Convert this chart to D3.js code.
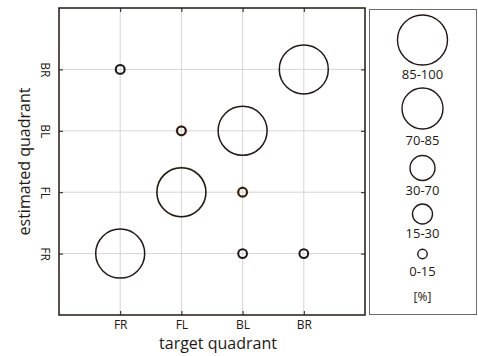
<!DOCTYPE html>
<html>
<head>
<meta charset="UTF-8">
<title>quadrant confusion</title>
<script src="https://cdnjs.cloudflare.com/ajax/libs/d3/7.9.0/d3.min.js"></script>
<style>
    body { margin: 0; background: #fff; }
    text { font-family: "Open Sans", "Noto Sans", sans-serif; fill: #231815; }
</style>
</head>
<body>
<div id="plot"></div>
<script>
    // data
    const quadrants = ["FR", "FL", "BL", "BR"];
    const targets   = ["FR", "FL", "BL", "BR", "FR", "FL", "BL", "BL", "BR"];
    const estimates = ["FR", "FL", "BL", "BR", "BR", "BL", "FL", "FR", "FR"];
    const classes   = ["85-100", "85-100", "85-100", "85-100", "0-15", "0-15", "0-15", "0-15", "0-15"];
    const tints     = [null, "#9ab060", null, null, "#5cc0d0", "#e08040", "#f0a020", null, null];

    const legendClasses = ["85-100", "70-85", "30-70", "15-30", "0-15"];
    const legendRadii   = [25, 20.5, 12.5, 10, 4.7];

    const W = 478, H = 356;
    const plot = {left: 59, top: 8, right: 365, bottom: 315};
    const ink = "#231815";

    const svg = d3.select("#plot").append("svg")
        .attr("width", W).attr("height", H);

    const x = d3.scaleLinear().domain([0, 5]).range([plot.left, plot.right]);
    const y = d3.scaleLinear().domain([0, 5]).range([plot.bottom, plot.top]);
    const pos = q => quadrants.indexOf(q) + 1;
    const r = d3.scaleOrdinal().domain(legendClasses).range(legendRadii);

    // grid
    const grid = svg.append("g").attr("stroke", "#d6d6d6").attr("stroke-width", 1);
    quadrants.forEach((q, i) => {
        grid.append("line")
            .attr("x1", x(i + 1)).attr("x2", x(i + 1))
            .attr("y1", plot.top).attr("y2", plot.bottom);
        grid.append("line")
            .attr("y1", y(i + 1)).attr("y2", y(i + 1))
            .attr("x1", plot.left).attr("x2", plot.right);
    });

    // axes (ticks inward)
    const tickVals = [1, 2, 3, 4];
    const fmt = d => quadrants[d - 1];
    const xAxis = svg.append("g")
        .attr("transform", `translate(0,${plot.bottom})`)
        .call(d3.axisBottom(x).tickValues(tickVals).tickFormat(fmt).tickSizeInner(-4).tickSizeOuter(0).tickPadding(5));
    const xTop = svg.append("g")
        .attr("transform", `translate(0,${plot.top})`)
        .call(d3.axisTop(x).tickValues(tickVals).tickFormat("").tickSizeInner(-4).tickSizeOuter(0));
    const yAxis = svg.append("g")
        .attr("transform", `translate(${plot.left},0)`)
        .call(d3.axisLeft(y).tickValues(tickVals).tickFormat(fmt).tickSizeInner(-4).tickSizeOuter(0).tickPadding(0));
    const yRight = svg.append("g")
        .attr("transform", `translate(${plot.right},0)`)
        .call(d3.axisRight(y).tickValues(tickVals).tickFormat("").tickSizeInner(-4).tickSizeOuter(0));

    [xAxis, xTop, yAxis, yRight].forEach(a => {
        a.select(".domain").remove();
        a.selectAll(".tick line").attr("stroke", ink).attr("stroke-width", 1);
    });
    xAxis.selectAll(".tick text")
        .attr("font-size", 12).attr("font-family", "Open Sans, sans-serif").attr("fill", ink);
    yAxis.selectAll(".tick text")
        .attr("font-size", 12).attr("font-family", "Open Sans, sans-serif").attr("fill", ink)
        .attr("text-anchor", "middle").attr("dy", null)
        .attr("transform", d => `translate(-14,0) rotate(90)`)
        .attr("x", 0).attr("y", 0).attr("dominant-baseline", "central");

    // frame
    svg.append("rect")
        .attr("x", plot.left).attr("y", plot.top)
        .attr("width", plot.right - plot.left).attr("height", plot.bottom - plot.top)
        .attr("fill", "none").attr("stroke", ink).attr("stroke-width", 1.5);

    // bubbles
    const pts = targets.map((t, i) => ({t: t, e: estimates[i], c: classes[i], tint: tints[i]}));
    svg.append("g").selectAll("circle.tint")
        .data(pts.filter(d => d.tint))
        .join("circle")
        .attr("cx", d => x(pos(d.t))).attr("cy", d => y(pos(d.e)))
        .attr("r", d => d.c === "0-15" ? 4.6 : r(d.c) - 0.3)
        .attr("fill", "none").attr("stroke", d => d.tint)
        .attr("stroke-width", d => d.c === "0-15" ? 2.6 : 1.8).attr("opacity", 0.45);
    svg.append("g").selectAll("circle.pt")
        .data(pts)
        .join("circle")
        .attr("cx", d => x(pos(d.t))).attr("cy", d => y(pos(d.e)))
        .attr("r", d => d.c === "0-15" ? 4.4 : r(d.c) - 0.5)
        .attr("fill", "none").attr("stroke", ink)
        .attr("stroke-width", d => d.c === "0-15" ? 2 : 1.5);

    // axis titles
    svg.append("text")
        .attr("x", (plot.left + plot.right) / 2 + 6).attr("y", 349)
        .attr("text-anchor", "middle").attr("font-size", 16)
        .text("target quadrant");
    svg.append("text")
        .attr("transform", `translate(24,${(plot.top + plot.bottom) / 2}) rotate(-90)`)
        .attr("text-anchor", "middle").attr("dominant-baseline", "central").attr("font-size", 16)
        .text("estimated quadrant");

    // legend
    const leg = svg.append("g");
    leg.append("rect")
        .attr("x", 369.5).attr("y", 9.5).attr("width", 107).attr("height", 305)
        .attr("fill", "none").attr("stroke", "#6b6b6b").attr("stroke-width", 1);
    const lcx = 422.5;
    const circleY = [40, 108.5, 168, 214, 254];
    const labelY  = [74, 140, 190, 232.5, 271];
    legendClasses.forEach((c, i) => {
        leg.append("circle")
            .attr("cx", lcx).attr("cy", circleY[i]).attr("r", r(c))
            .attr("fill", "none").attr("stroke", ink).attr("stroke-width", 1.4);
        leg.append("text")
            .attr("x", lcx).attr("y", labelY[i])
            .attr("text-anchor", "middle").attr("dominant-baseline", "central")
            .attr("font-size", 13).text(c);
    });
    leg.append("text")
        .attr("x", lcx).attr("y", 296.5)
        .attr("text-anchor", "middle").attr("dominant-baseline", "central")
        .attr("font-size", 12).text("[%]");
</script>
</body>
</html>
